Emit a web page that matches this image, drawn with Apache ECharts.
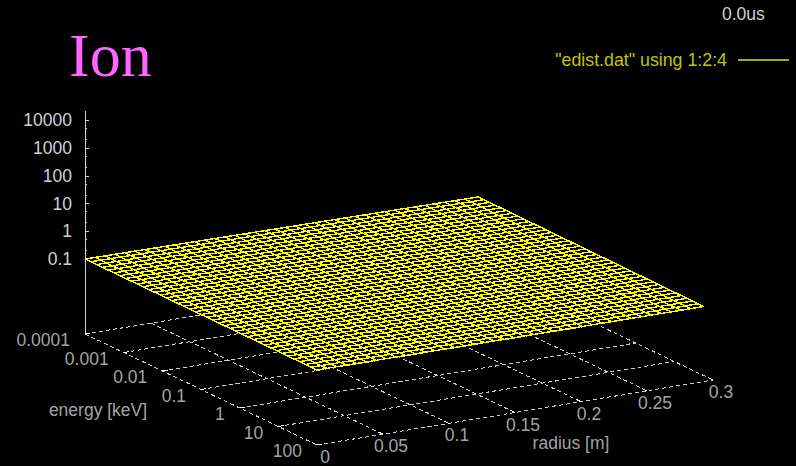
<!DOCTYPE html>
<html>
<head>
<meta charset="utf-8">
<style>html,body{margin:0;padding:0;background:#000}#c{width:796px;height:466px}#c svg path{shape-rendering:crispEdges}</style>
<script src="https://cdn.jsdelivr.net/npm/echarts@6/dist/echarts.min.js"></script>
</head>
<body>
<div id="c"></div>
<script>
// ---- data ----
const radiusTicks = [0, 0.05, 0.1, 0.15, 0.2, 0.25, 0.3];
const radiusTickLabels = ['0', '0.05', '0.1', '0.15', '0.2', '0.25', '0.3'];
const energyTicks = [0.0001, 0.001, 0.01, 0.1, 1, 10, 100];
const energyTickLabels = ['0.0001', '0.001', '0.01', '0.1', '1', '10', '100'];
const zTicks = [0.1, 1, 10, 100, 1000, 10000];
const zTickLabels = ['0.1', '1', '10', '100', '1000', '10000'];
const zMinorTicks = [0.2, 0.5, 2, 5, 20, 50, 200, 500, 2000, 5000];
const zAxisMax = 20000;
const surfaceValue = 0.1;
const meshRadius = [0,0.0075,0.015,0.0225,0.03,0.0375,0.045,0.0525,0.06,0.0675,0.075,0.0825,0.09,0.0975,0.105,0.1125,0.12,0.1275,0.135,0.1425,0.15,0.1575,0.165,0.1725,0.18,0.1875,0.195,0.2025,0.21,0.2175,0.225,0.2325,0.24,0.2475,0.255,0.2625,0.27,0.2775,0.285,0.295];
const meshEnergyExp = [-4,-3.85,-3.7,-3.55,-3.4,-3.25,-3.1,-2.95,-2.8,-2.65,-2.5,-2.35,-2.2,-2.05,-1.9,-1.75,-1.6,-1.45,-1.3,-1.15,-1,-0.85,-0.7,-0.55,-0.4,-0.25,-0.1,0.05,0.2,0.35,0.5,0.65,0.8,0.95,1.1,1.25,1.4,1.55,1.7,1.85,2];
const seriesName = '"edist.dat" using 1:2:4';
const titleText = 'Ion';
const timeText = '0.0us';
const radiusName = 'radius [m]';
const energyName = 'energy [keV]';

// ---- projection of (radius, log10 energy, log10 z) on the page ----
const view = { ox: 85, oy: 334, rx: 396 / 0.3, ry: -65 / 0.3, ex: 232 / 6, ey: 111 / 6, zBase: 259, zDec: 27.75 };
function project(r, eExp, z) {
  const up = z === undefined ? 0 : (view.oy - view.zBase) + (Math.log10(z) - Math.log10(surfaceValue)) * view.zDec;
  return [view.ox + r * view.rx + (eExp + 4) * view.ex,
          view.oy + r * view.ry + (eExp + 4) * view.ey - up];
}
const eExp = e => Math.log10(e);
const rMin = radiusTicks[0], rMax = radiusTicks[radiusTicks.length - 1];
const eMin = eExp(energyTicks[0]), eMax = eExp(energyTicks[energyTicks.length - 1]);
const rEnd = meshRadius[meshRadius.length - 1];

// the surface's far edge sits slightly askew in the picture
function meshPoint(r, e) {
  const t = (e - eMin) / (eMax - eMin), s = r / rEnd;
  return project(r * (1 - 0.0068 * t), e + 0.1 * s * (1 - t), surfaceValue);
}

// surface mesh
const meshLines = [];
meshRadius.forEach(r => meshLines.push({ coords: meshEnergyExp.map(e => meshPoint(r, e)) }));
meshEnergyExp.forEach(e => meshLines.push({ coords: meshRadius.map(r => meshPoint(r, e)) }));
const surfaceOutline = [meshPoint(0, eMin), meshPoint(0, eMax), meshPoint(rEnd, eMax), meshPoint(rEnd, eMin)];

// base grid
const gridLines = [];
radiusTicks.forEach(r => gridLines.push({ coords: [project(r, eMin), project(r, eMax)] }));
energyTicks.forEach(e => gridLines.push({ coords: [project(rMin, eExp(e)), project(rMax, eExp(e))] }));

// short solid tick pips
const pipLines = [];
radiusTicks.forEach(r => pipLines.push({ coords: [project(r, eMax), project(r, eMax - 0.12)] }));
energyTicks.forEach(e => pipLines.push({ coords: [project(rMin, eExp(e)), project(rMin + 0.004, eExp(e))] }));

const zTop = project(0, eMin, zAxisMax);
const zLow = project(0, eMin, surfaceValue);
const zLines = [{ coords: [project(0, eMin), zLow] }];
zMinorTicks.forEach(z => {
  const p = project(0, eMin, z);
  zLines.push({ coords: [p, [p[0] + 2, p[1]]] });
});

const labelGrey = '#d0d0d0';
const font = 'Liberation Sans';
const energyLabelData = energyTicks.map((e, i) => ({ value: project(rMin, eExp(e)), name: energyTickLabels[i] }));
const radiusLabelData = radiusTicks.map((r, i) => ({ value: project(r, eMax), name: radiusTickLabels[i] }));
const labelSeries = (data, extra) => ({
  type: 'scatter', xAxisIndex: 0, yAxisIndex: 0, symbolSize: 0, silent: true, data,
  label: Object.assign({ show: true, formatter: p => p.name, color: labelGrey, fontFamily: font, fontSize: 17.5 }, extra)
});

const chart = echarts.init(document.getElementById('c'), null, { renderer: 'svg' });
chart.setOption({
  backgroundColor: '#000',
  animation: false,
  title: [
    { text: titleText, left: 64, top: 19, textStyle: { fontFamily: 'Liberation Serif', fontSize: 62, fontWeight: 'normal', color: '#ff66ff' } },
    { text: timeText, left: 717, top: 0, textStyle: { fontFamily: font, fontSize: 17.5, fontWeight: 'normal', color: labelGrey } }
  ],
  legend: {
    top: 51, right: 6, align: 'right', orient: 'horizontal', selectedMode: false, itemGap: 0,
    itemWidth: 51, itemHeight: 14, padding: 0,
    itemStyle: { opacity: 0 },
    textStyle: { color: '#c4c400', fontFamily: font, fontSize: 17.8, padding: [0, 6, 0, 0] },
    data: [{ name: seriesName }]
  },
  grid: [
    { left: 0, top: 0, width: 796, height: 466 },
    { left: zLow[0], width: 8, top: zTop[1], height: zLow[1] - zTop[1] }
  ],
  xAxis: [
    { type: 'value', gridIndex: 0, min: 0, max: 796, show: false },
    { type: 'value', gridIndex: 1, min: 0, max: 1, show: false }
  ],
  yAxis: [
    { type: 'value', gridIndex: 0, min: 0, max: 466, inverse: true, show: false },
    {
      type: 'log', gridIndex: 1, min: surfaceValue, max: zAxisMax, logBase: 10, position: 'left',
      axisLine: { show: true, lineStyle: { color: labelGrey } },
      axisTick: { show: true, inside: true, length: 4, lineStyle: { color: labelGrey } },
      splitLine: { show: false }, minorTick: { show: false },
      axisLabel: {
        color: labelGrey, fontFamily: font, fontSize: 17.5, margin: 13,
        showMaxLabel: false,
        formatter: v => { const i = zTicks.findIndex(t => Math.abs(t - v) < 1e-6 * t); return i >= 0 ? zTickLabels[i] : ''; }
      }
    }
  ],
  series: [
    { type: 'line', name: seriesName, xAxisIndex: 0, yAxisIndex: 0, symbol: 'none', silent: true, data: [],
      itemStyle: { color: '#aaaa00' }, lineStyle: { color: '#aaaa00', width: 1 } },
    { type: 'lines', name: 'grid', coordinateSystem: 'cartesian2d', polyline: true, silent: true, z: 1, data: gridLines,
      lineStyle: { color: labelGrey, width: 1, opacity: 1, type: [4, 3] } },
    { type: 'lines', name: 'pips', coordinateSystem: 'cartesian2d', polyline: true, silent: true, z: 1, data: pipLines,
      lineStyle: { color: '#ffffff', width: 1, opacity: 1 } },
    { type: 'lines', name: 'zaxis', coordinateSystem: 'cartesian2d', polyline: true, silent: true, z: 1, data: zLines,
      lineStyle: { color: labelGrey, width: 1, opacity: 1 } },
    { type: 'custom', name: 'mask', coordinateSystem: 'cartesian2d', silent: true, z: 2, data: [[0, 0]],
      renderItem: (p, api) => ({ type: 'polygon', shape: { points: surfaceOutline.map(c => api.coord(c)) }, style: { fill: '#000' } }) },
    { type: 'lines', name: 'surface', coordinateSystem: 'cartesian2d', polyline: true, silent: true, z: 3, data: meshLines,
      lineStyle: { color: '#ffff00', width: 1.4, opacity: 1 } },
    Object.assign(labelSeries(energyLabelData, { position: 'left', distance: 0, offset: [-15, 6] }), { name: 'e' }),
    Object.assign(labelSeries(radiusLabelData, { position: 'inside', offset: [8, 12], lineHeight: 16 }), { name: 'r' }),
    Object.assign(labelSeries([
      { value: project(rMin, (eMin + eMax) / 2), name: energyName }
    ], { position: 'inside', offset: [-103, 20] }), { name: 'en' }),
    Object.assign(labelSeries([
      { value: project((rMin + rMax) / 2, eMax), name: radiusName }
    ], { position: 'inside', offset: [56, 30] }), { name: 'rn' })
  ]
});
</script>
</body>
</html>
